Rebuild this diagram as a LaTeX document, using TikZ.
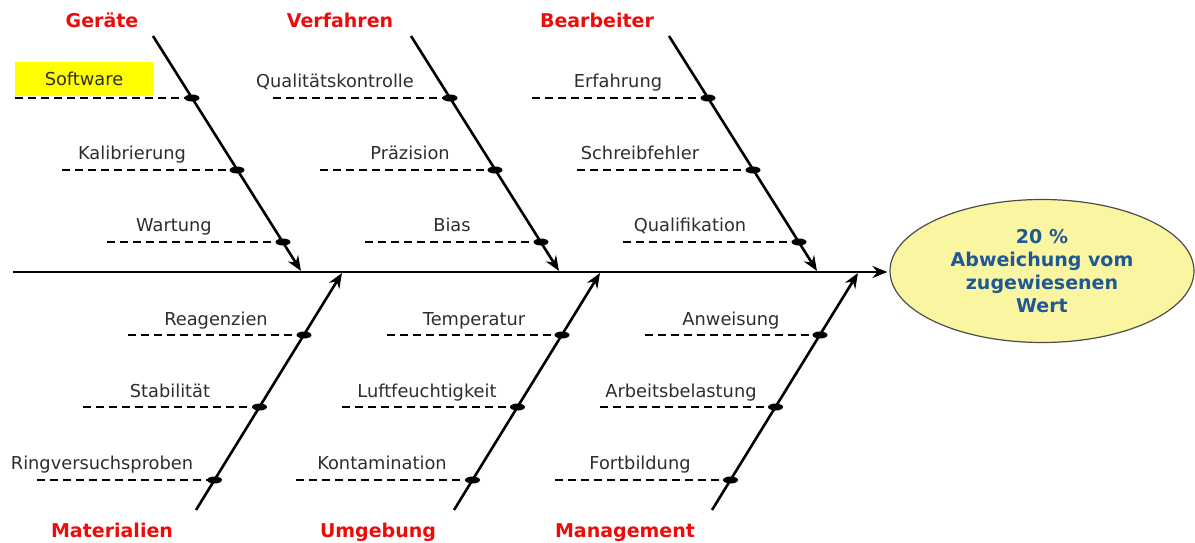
\documentclass[tikz,border=0pt]{standalone}
\usepackage{fontspec}
\setmainfont{DejaVu Sans}
\usetikzlibrary{arrows.meta,shapes.geometric}
\definecolor{catred}{RGB}{235,12,12}
\definecolor{lblgray}{RGB}{45,45,45}
\definecolor{effblue}{RGB}{30,88,150}
\definecolor{efffill}{RGB}{250,245,160}
\definecolor{hl}{RGB}{255,255,0}
\begin{document}
\begin{tikzpicture}[x=1pt,y=-1pt,
  bone/.style={line width=2.6pt,-{Stealth[length=15pt,width=12pt,inset=5pt]}},
  spine/.style={line width=2.8pt,-{Stealth[length=15pt,width=12pt,inset=5pt]}},
  sub/.style={line width=2pt,dash pattern=on 8pt off 5pt},
  jdot/.style={ellipse,fill=black,minimum width=15pt,minimum height=7pt,inner sep=0pt},
  lbl/.style={font=\fontsize{17.8}{20}\selectfont,text=lblgray,anchor=base,inner sep=0pt},
  cat/.style={font=\bfseries\fontsize{19}{22}\selectfont,text=catred,anchor=base,inner sep=0pt},
  effect/.style={ellipse,draw=black!70,line width=1.2pt,fill=efffill,minimum width=304pt,minimum height=143pt,inner sep=0pt,
    align=center,text=effblue,font=\bfseries\fontsize{19}{23}\selectfont}]
\useasboundingbox (0,0) rectangle (1195,542);

% effect
\node[effect] (eff) at (1042,271) {20 \%\\Abweichung vom\\zugewiesenen\\Wert};
\coordinate (sp0) at (13,272);
\draw[spine,shorten >=2pt] (sp0) -- (sp0 -| eff.west);

% bone end points
\coordinate (gA) at (153,36);  \coordinate (gB) at (301,271);
\coordinate (vA) at (411,36);  \coordinate (vB) at (559,271);
\coordinate (bA) at (669,36);  \coordinate (bB) at (817,271);
\coordinate (mA) at (196,510); \coordinate (mB) at (342,273);
\coordinate (uA) at (454,510); \coordinate (uB) at (600,273);
\coordinate (nA) at (712,510); \coordinate (nB) at (858,273);

% dashed sub-cause starts
\coordinate (gs1) at (15,98);  \coordinate (gs2) at (62,170);  \coordinate (gs3) at (107,242);
\coordinate (vs1) at (273,98); \coordinate (vs2) at (320,170); \coordinate (vs3) at (365,242);
\coordinate (bs1) at (532,98); \coordinate (bs2) at (577,170); \coordinate (bs3) at (623,242);
\coordinate (ms1) at (128,335); \coordinate (ms2) at (83,407); \coordinate (ms3) at (37,480);
\coordinate (us1) at (387,335); \coordinate (us2) at (342,407); \coordinate (us3) at (296,480);
\coordinate (ns1) at (645,335); \coordinate (ns2) at (600,407); \coordinate (ns3) at (555,480);

% highlight + labels
\node[lbl,anchor=center,fill=hl,minimum width=138pt,minimum height=34pt] (l-soft) at (84,79) {Software};
\node[lbl] (l-kal) at (132,159) {Kalibrierung};
\node[lbl] (l-war) at (174,231) {Wartung};
\node[lbl] (l-qk) at (335,87) {Qualitätskontrolle};
\node[lbl] (l-pr) at (410,159) {Präzision};
\node[lbl] (l-bi) at (452,231) {Bias};
\node[lbl] (l-erf) at (618,87) {Erfahrung};
\node[lbl] (l-sch) at (640,159) {Schreibfehler};
\node[lbl] (l-qua) at (690,231) {Qualifikation};
\node[lbl] (l-rea) at (216,325) {Reagenzien};
\node[lbl] (l-sta) at (170,397) {Stabilität};
\node[lbl] (l-rin) at (102,469) {Ringversuchsproben};
\node[lbl] (l-tem) at (474,325) {Temperatur};
\node[lbl] (l-luf) at (427,397) {Luftfeuchtigkeit};
\node[lbl] (l-kon) at (382,469) {Kontamination};
\node[lbl] (l-anw) at (731,325) {Anweisung};
\node[lbl] (l-arb) at (681,397) {Arbeitsbelastung};
\node[lbl] (l-for) at (640,469) {Fortbildung};

% categories
\node[cat] (c-ger) at (102,27) {Geräte};
\node[cat] (c-ver) at (340,27) {Verfahren};
\node[cat] (c-bea) at (597,27) {Bearbeiter};
\node[cat] (c-mat) at (112,537) {Materialien};
\node[cat] (c-umg) at (378,537) {Umgebung};
\node[cat] (c-man) at (625,537) {Management};

% junction coordinates
\coordinate (gd1) at (192,98);  \coordinate (gd2) at (237,170);  \coordinate (gd3) at (283,242);
\coordinate (vd1) at (450,98);  \coordinate (vd2) at (495,170);  \coordinate (vd3) at (541,242);
\coordinate (bd1) at (708,98);  \coordinate (bd2) at (753,170);  \coordinate (bd3) at (799,242);
\coordinate (md1) at (304,335); \coordinate (md2) at (259.5,407); \coordinate (md3) at (214.5,480);
\coordinate (ud1) at (562,335); \coordinate (ud2) at (517.5,407); \coordinate (ud3) at (472.5,480);
\coordinate (nd1) at (820,335); \coordinate (nd2) at (775.5,407); \coordinate (nd3) at (730.5,480);

% dashed sub-cause lines
\foreach \p in {g,v,b,m,u,n}{
  \foreach \i in {1,2,3}{
    \draw[sub] (\p s\i) -- (\p d\i);
  }
}

% bones
\draw[bone] (gA) -- (gB);
\draw[bone] (vA) -- (vB);
\draw[bone] (bA) -- (bB);
\draw[bone] (mA) -- (mB);
\draw[bone] (uA) -- (uB);
\draw[bone] (nA) -- (nB);

% junction dots
\foreach \p in {g,v,b,m,u,n}{
  \foreach \i in {1,2,3}{
    \node[jdot] (\p j\i) at (\p d\i) {};
  }
}
\end{tikzpicture}
\end{document}
